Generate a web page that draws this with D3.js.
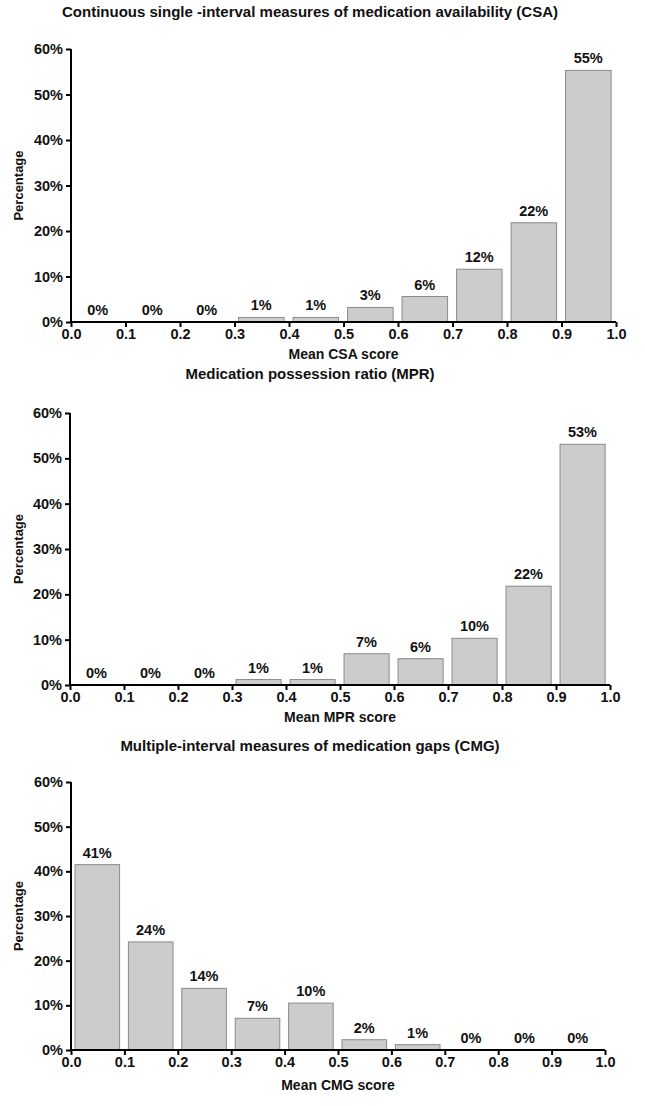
<!DOCTYPE html>
<html>
<head>
<meta charset="utf-8">
<script src="https://cdn.jsdelivr.net/npm/d3@7"></script>
<style>
  body { margin: 0; background: #fff; }
  text { font-family: "Liberation Sans", Arial, sans-serif; font-weight: bold; fill: #111; }
</style>
</head>
<body>
<svg id="chart" width="645" height="1106"></svg>
<script>
  // bins (lower edge of each 0.1 interval)
  var bins = [0.0, 0.1, 0.2, 0.3, 0.4, 0.5, 0.6, 0.7, 0.8, 0.9]
  var xTicks = [0.0, 0.1, 0.2, 0.3, 0.4, 0.5, 0.6, 0.7, 0.8, 0.9, 1.0]
  var yTicks = [0, 10, 20, 30, 40, 50, 60]

  var csaValues = [0, 0, 0, 1.0, 1.0, 3.2, 5.6, 11.6, 21.8, 55.3]
  var csaLabels = ["0%", "0%", "0%", "1%", "1%", "3%", "6%", "12%", "22%", "55%"]

  var mprValues = [0, 0, 0, 1.2, 1.2, 6.9, 5.8, 10.3, 21.8, 53.1]
  var mprLabels = ["0%", "0%", "0%", "1%", "1%", "7%", "6%", "10%", "22%", "53%"]

  var cmgValues = [41.5, 24.2, 13.8, 7.1, 10.5, 2.3, 1.2, 0, 0, 0]
  var cmgLabels = ["41%", "24%", "14%", "7%", "10%", "2%", "1%", "0%", "0%", "0%"]

  var titles = [
    "Continuous single -interval measures of medication availability (CSA)",
    "Medication possession ratio (MPR)",
    "Multiple-interval measures of medication gaps (CMG)"
  ]
  var xTitles = ["Mean CSA score", "Mean MPR score", "Mean CMG score"]

  var panels = [
    { values: csaValues, labels: csaLabels, left: 71, right: 616, top: 49, bottom: 322, titleY: 17, xTitleY: 359 },
    { values: mprValues, labels: mprLabels, left: 70, right: 610, top: 413, bottom: 685, titleY: 379, xTitleY: 722 },
    { values: cmgValues, labels: cmgLabels, left: 71, right: 605, top: 782, bottom: 1050, titleY: 751, xTitleY: 1090 }
  ]

  var svg = d3.select('#chart')

  panels.forEach(function (p, i) {
    var x = d3.scaleLinear().domain([0, 1]).range([p.left, p.right])
    var y = d3.scaleLinear().domain([0, 60]).range([p.bottom, p.top])
    var g = svg.append('g')

    g.append('text')
      .attr('x', 310)
      .attr('y', p.titleY)
      .attr('text-anchor', 'middle')
      .attr('font-size', 15)
      .text(titles[i])

    // bars
    g.selectAll('rect')
      .data(p.values)
      .enter().append('rect')
      .attr('x', function (d, j) { return x(bins[j] + 0.0075) })
      .attr('width', function (d, j) { return x(bins[j] + 0.091) - x(bins[j] + 0.0075) })
      .attr('y', function (d) { return y(d) })
      .attr('height', function (d) { return y(0) - y(d) })
      .attr('fill', '#cccccc')
      .attr('stroke', function (d) { return d > 0 ? '#8a8a8a' : 'none' })
      .attr('stroke-width', 1)

    // value labels
    g.selectAll('text.val')
      .data(p.values)
      .enter().append('text')
      .attr('class', 'val')
      .attr('x', function (d, j) { return x(bins[j] + 0.049) })
      .attr('y', function (d) { return y(d) - 7 })
      .attr('text-anchor', 'middle')
      .attr('font-size', 14.5)
      .text(function (d, j) { return p.labels[j] })

    var yAxis = d3.axisLeft(y)
      .tickValues(yTicks)
      .tickFormat(function (d) { return d + '%' })
      .tickSize(5)
      .tickPadding(3)
    var xAxis = d3.axisBottom(x)
      .tickValues(xTicks)
      .tickFormat(d3.format('.1f'))
      .tickSize(5)
      .tickPadding(2)

    var ya = g.append('g').attr('transform', 'translate(' + p.left + ',0)').call(yAxis)
    var xa = g.append('g').attr('transform', 'translate(0,' + p.bottom + ')').call(xAxis)

    ;[ya, xa].forEach(function (a) {
      a.select('.domain').attr('stroke', '#000').attr('stroke-width', 2)
      a.selectAll('.tick line').attr('stroke', '#000').attr('stroke-width', 2)
      a.selectAll('.tick text')
        .attr('font-size', 14.5)
        .attr('font-family', '"Liberation Sans", Arial, sans-serif')
        .attr('font-weight', 'bold')
        .attr('fill', '#111')
    })
    ya.select('.domain').attr('d', 'M0,' + (p.bottom + 1) + 'V' + p.top)
    xa.select('.domain').attr('d', 'M' + (p.left - 1) + ',0H' + p.right)

    g.append('text')
      .attr('transform', 'translate(23,' + ((p.top + p.bottom) / 2) + ') rotate(-90)')
      .attr('text-anchor', 'middle')
      .attr('font-size', 13)
      .text('Percentage')

    g.append('text')
      .attr('x', (p.left + p.right) / 2)
      .attr('y', p.xTitleY)
      .attr('text-anchor', 'middle')
      .attr('font-size', 14)
      .text(xTitles[i])
  })
</script>
</body>
</html>
